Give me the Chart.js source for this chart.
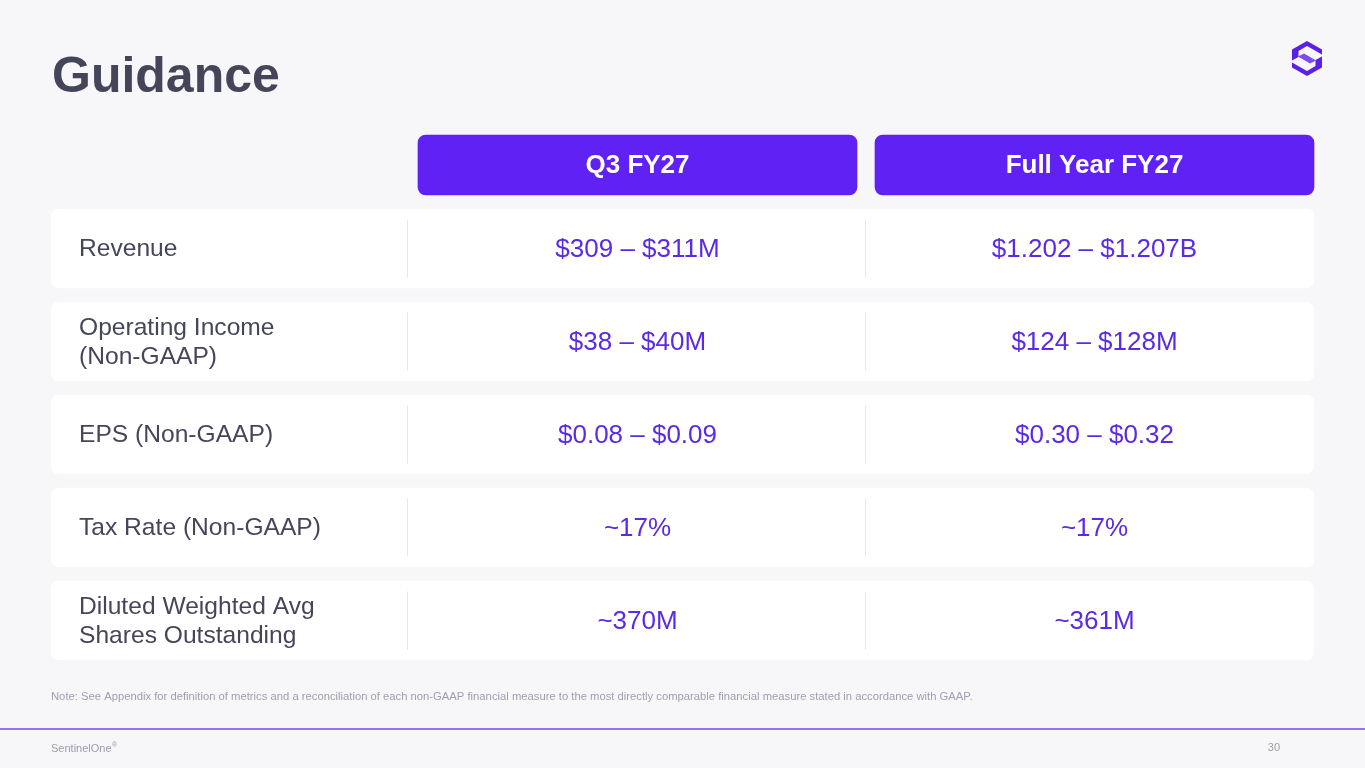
<!DOCTYPE html>
<html>
<head>
<meta charset="utf-8">
<script src="https://cdn.jsdelivr.net/npm/chart.js@4/dist/chart.umd.min.js"></script>
<style>
  html, body { margin: 0; padding: 0; background: #f7f7fa; }
  #wrap { position: relative; width: 1365px; height: 768px; overflow: hidden; }
  #logo { position: absolute; left: 1292px; top: 41px; width: 30px; height: 35px; }
</style>
</head>
<body>
<div id="wrap">
  <canvas id="guidance" width="1365" height="768"></canvas>
  <svg id="logo" viewBox="0 0 30 35">
    <polygon points="0,8.5 15,0 30,8.5 30,13.5 15,5 6.5,10 6.5,16 0,19.5" fill="#5a1fe8"/>
    <polygon points="6,15.5 12,12.5 24,19.5 18,22.5" fill="#7b4df1"/>
    <polygon points="30,26.5 15,35 0,26.5 0,21.5 15,30 23.5,25 23.5,19 30,15.5" fill="#5a1fe8"/>
  </svg>
</div>
<script>
// guidance table data
const metrics = [
  "Revenue",
  "Operating Income\n(Non-GAAP)",
  "EPS (Non-GAAP)",
  "Tax Rate (Non-GAAP)",
  "Diluted Weighted Avg\nShares Outstanding"
];
const periods = ["Q3 FY27", "Full Year FY27"];
const q3Guidance = ["$309 – $311M", "$38 – $40M", "$0.08 – $0.09", "~17%", "~370M"];
const fyGuidance = ["$1.202 – $1.207B", "$124 – $128M", "$0.30 – $0.32", "~17%", "~361M"];

const PURPLE = "#6022f4";
const VALUE_PURPLE = "#5a2ae6";
const LABEL = "#46465a";
const FONT = "'Liberation Sans', Arial, sans-serif";

// table columns in table units (1 unit = 1px of table width)
const colEdges = [0, 356, 814, 1263];
const headerPos = 0.102;  // header row sits a bit closer to the first row
const headerSpans = periods.map((p, j) => [
  colEdges[j + 1] + (j === 0 ? 11 : 10),
  colEdges[j + 2] - (j === 0 ? 8 : 0)
]);
const columnValues = [q3Guidance, fyGuidance];

const tablePlugin = {
  id: "tableText",
  beforeDraw(chart) {
    const ctx = chart.ctx;
    ctx.save();
    ctx.fillStyle = "#f7f7fa";
    ctx.fillRect(0, 0, chart.width, chart.height);

    ctx.fillStyle = "#45455a";
    ctx.font = "bold 50px " + FONT;
    ctx.textBaseline = "alphabetic";
    ctx.fillText("Guidance", 52, 92);

    ctx.fillStyle = "#9f9fad";
    ctx.font = "11.25px " + FONT;
    ctx.fillText("Note: See Appendix for definition of metrics and a reconciliation of each non-GAAP financial measure to the most directly comparable financial measure stated in accordance with GAAP.", 51, 700);

    ctx.strokeStyle = "#9272f0";
    ctx.lineWidth = 2;
    ctx.beginPath();
    ctx.moveTo(0, 729);
    ctx.lineTo(chart.width, 729);
    ctx.stroke();

    ctx.fillStyle = "#9c9caa";
    ctx.font = "11px " + FONT;
    ctx.fillText("SentinelOne", 51, 752);
    const w = ctx.measureText("SentinelOne").width;
    ctx.font = "7px " + FONT;
    ctx.fillText("®", 51 + w + 0.5, 747);
    ctx.font = "11px " + FONT;
    ctx.textAlign = "right";
    ctx.fillText("30", 1280, 751);
    ctx.restore();
  },
  afterDatasetsDraw(chart) {
    const ctx = chart.ctx;
    const x = chart.scales.x;
    const y = chart.scales.y;
    ctx.save();

    // header captions
    ctx.fillStyle = "#ffffff";
    ctx.font = "bold 26px " + FONT;
    ctx.textAlign = "center";
    ctx.textBaseline = "middle";
    const centers = headerSpans.map(s => x.getPixelForValue((s[0] + s[1]) / 2));
    periods.forEach((p, j) => {
      ctx.fillText(p, centers[j], y.getPixelForValue(headerPos) + 1);
    });

    metrics.forEach((m, i) => {
      const yc = y.getPixelForValue(i + 1);

      // dividers
      ctx.strokeStyle = "#e6e6ec";
      ctx.lineWidth = 1;
      [colEdges[1], colEdges[2]].forEach(e => {
        const px = Math.round(x.getPixelForValue(e)) + 0.5;
        ctx.beginPath();
        ctx.moveTo(px, yc - 29);
        ctx.lineTo(px, yc + 29);
        ctx.stroke();
      });

      // row label
      const lines = m.split("\n");
      ctx.fillStyle = LABEL;
      ctx.font = "24.6px " + FONT;
      ctx.textAlign = "left";
      lines.forEach((ln, k) => {
        const off = (k - (lines.length - 1) / 2) * 29;
        ctx.fillText(ln, x.getPixelForValue(colEdges[0]) + 28, yc + off + 1);
      });

      // guidance values
      ctx.fillStyle = VALUE_PURPLE;
      ctx.font = "26px " + FONT;
      ctx.textAlign = "center";
      columnValues.forEach((vals, j) => {
        ctx.fillText(vals[i], centers[j], yc + 1);
      });
    });
    ctx.restore();
  }
};

new Chart(document.getElementById("guidance"), {
  type: "bar",
  data: {
    datasets: [
      {
        label: "rows",
        data: metrics.map((m, i) => ({ x: [colEdges[0], colEdges[3]], y: i + 1 })),
        backgroundColor: "#ffffff",
        borderRadius: 8,
        borderSkipped: false,
        barThickness: 79,
        grouped: false,
        clip: false
      },
      {
        label: "headers",
        data: periods.map((p, j) => ({ x: headerSpans[j], y: headerPos })),
        backgroundColor: PURPLE,
        borderRadius: 8,
        borderSkipped: false,
        barThickness: 60,
        grouped: false,
        clip: false
      }
    ]
  },
  options: {
    indexAxis: "y",
    responsive: false,
    animation: false,
    events: [],
    layout: { padding: { left: 51, right: 51, top: 155.5, bottom: 54.5 } },
    scales: {
      x: { type: "linear", min: colEdges[0], max: colEdges[3], offset: false, display: false },
      y: { type: "linear", min: 0, max: 6, reverse: true, offset: false, display: false }
    },
    plugins: {
      legend: { display: false },
      tooltip: { enabled: false }
    }
  },
  plugins: [tablePlugin]
});
</script>
</body>
</html>
